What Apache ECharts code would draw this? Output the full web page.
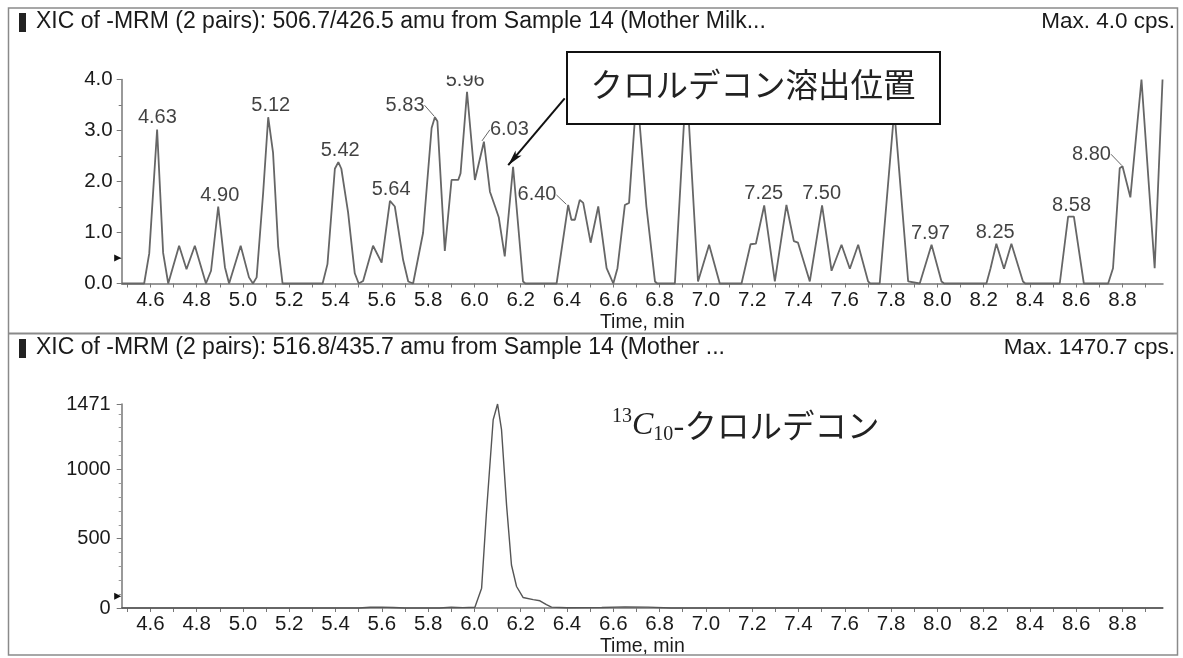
<!DOCTYPE html>
<html>
<head>
<meta charset="utf-8">
<script src="https://cdn.jsdelivr.net/npm/echarts@6/dist/echarts.min.js"></script>
<style>
html,body{margin:0;padding:0;background:#fff;}
#chart{width:1183px;height:658px;}
</style>
</head>
<body>
<div id="chart"></div>
<script>
// ---------- data ----------
const topTimes = [4.476,4.573,4.595,4.629,4.655,4.677,4.724,4.756,4.792,4.840,4.862,4.893,4.922,4.940,4.990,5.026,5.043,5.059,5.087,5.109,5.130,5.152,5.171,5.344,5.365,5.397,5.412,5.425,5.454,5.483,5.500,5.519,5.562,5.599,5.635,5.656,5.692,5.714,5.735,5.778,5.815,5.829,5.840,5.872,5.901,5.930,5.940,5.968,6.002,6.041,6.067,6.090,6.105,6.131,6.167,6.210,6.220,6.355,6.405,6.419,6.434,6.455,6.470,6.502,6.535,6.571,6.600,6.618,6.650,6.668,6.702,6.743,6.780,6.790,6.866,6.916,6.966,7.014,7.060,7.154,7.193,7.216,7.252,7.298,7.348,7.380,7.398,7.449,7.502,7.543,7.586,7.622,7.658,7.701,7.710,7.751,7.814,7.874,7.924,7.975,8.018,8.030,8.212,8.230,8.255,8.288,8.320,8.370,8.380,8.529,8.565,8.590,8.633,8.738,8.759,8.788,8.800,8.834,8.882,8.939,8.973];
const topValues = [0,0,0.59,3.02,0.6,0,0.74,0.28,0.74,0,0.25,1.51,0.32,0,0.74,0.12,0,0.12,1.77,3.26,2.56,0.73,0,0,0.38,2.25,2.38,2.25,1.4,0.2,0,0.05,0.74,0.41,1.62,1.51,0.46,0.04,0,0.99,3.05,3.26,3.18,0.64,2.03,2.03,2.16,3.76,2.03,2.78,1.8,1.5,1.3,0.53,2.29,0.04,0,0,1.54,1.25,1.25,1.64,1.58,0.8,1.51,0.3,0,0.3,1.54,1.58,3.8,1.51,0.04,0,0,4.0,0.04,0.76,0,0,0.77,0.78,1.53,0.04,1.54,0.83,0.8,0.04,1.53,0.25,0.76,0.29,0.76,0.04,0,0,3.4,0.04,0,0.76,0.04,0,0,0.3,0.78,0.29,0.78,0.04,0,0,1.31,1.31,0,0,0.3,2.26,2.3,1.69,4.0,0.3,4.0];

const peakLabels = ['4.63','4.90','5.12','5.42','5.64','5.83','5.96','6.03','6.40','7.25','7.50','7.97','8.25','8.58','8.80'];
const peakTimes  = [4.63,4.90,5.12,5.42,5.64,5.83,5.96,6.03,6.40,7.25,7.50,7.97,8.25,8.58,8.80];
const peakValues = [3.02,1.51,3.26,2.38,1.62,3.26,3.76,2.78,1.54,1.53,1.53,0.76,0.78,1.31,2.3];

const botTimes  = [4.476,5.50,5.55,5.60,5.65,5.70,5.85,5.90,5.95,6.002,6.031,6.052,6.081,6.100,6.117,6.139,6.160,6.182,6.210,6.254,6.283,6.311,6.333,6.400,6.55,6.65,6.75,6.85,8.975];
const botValues = [0,0,5,6,4,0,0,5,3,5,143,690,1357,1470.7,1286,738,310,155,76,60,52,24,6,2,4,8,6,0,0];

const xLabelValues = [4.6,4.8,5.0,5.2,5.4,5.6,5.8,6.0,6.2,6.4,6.6,6.8,7.0,7.2,7.4,7.6,7.8,8.0,8.2,8.4,8.6,8.8];
const xTickValues  = [4.5,4.6,4.7,4.8,4.9,5.0,5.1,5.2,5.3,5.4,5.5,5.6,5.7,5.8,5.9,6.0,6.1,6.2,6.3,6.4,6.5,6.6,6.7,6.8,6.9,7.0,7.1,7.2,7.3,7.4,7.5,7.6,7.7,7.8,7.9,8.0,8.1,8.2,8.3,8.4,8.5,8.6,8.7,8.8,8.9];
const topYLabels = [0,1,2,3,4];
const botYLabels = [0,500,1000,1471];
const botYMinor  = [100,200,300,400,600,700,800,900,1100,1200,1300,1400];

const xMin = 4.476, xMax = 8.975;
const topMax = 4.0, botMax = 1471;
const topMarker = 0.5, botMarker = 84;
const arrowFrom = [6.39, 3.63], arrowTo = [6.146, 2.32];

// label offsets (px) relative to the apex
const labelShift = {
  '5.83':[-30,-12], '6.03':[28,-12], '6.40':[-30,-10], '8.80':[-31,-12]
};

const zip = (a,b) => a.map((v,i)=>[v,b[i]]);
const SANS = '"Liberation Sans", Arial, sans-serif';
const SERIF = '"Liberation Serif", "Times New Roman", serif';
const CJK = '"Noto Sans CJK JP", sans-serif';
const axisColor = '#777';
const textColor = '#1a1a1a';

function xAxisDef(grid){
  return {
    type:'value', gridIndex:grid, min:xMin, max:xMax,
    axisLine:{show:true, onZero:false, lineStyle:{color:axisColor, width:1.5}},
    axisTick:{show:true, customValues:xTickValues, length:4, lineStyle:{color:axisColor}},
    axisLabel:{customValues:xLabelValues, formatter:v=>v.toFixed(1), fontSize:20.5, fontFamily:SANS, color:textColor, margin:6},
    splitLine:{show:false},
    name:'Time, min', nameLocation:'middle', nameGap:29,
    nameTextStyle:{fontSize:19.5, fontFamily:SANS, color:textColor}
  };
}

const chart = echarts.init(document.getElementById('chart'), null, {renderer:'canvas'});
const option = {
  animation:false,
  backgroundColor:'#fff',
  grid:[
    {left:121.7, right:20, top:79.5, bottom:374.5},
    {left:121.7, right:20, top:404, bottom:48}
  ],
  xAxis:[xAxisDef(0), xAxisDef(1)],
  yAxis:[
    {type:'value', gridIndex:0, min:0, max:topMax, interval:1,
     axisLine:{show:true, lineStyle:{color:axisColor, width:1.5}},
     axisTick:{show:true, length:5, lineStyle:{color:axisColor}},
     minorTick:{show:true, splitNumber:2, length:3, lineStyle:{color:axisColor}},
     axisLabel:{formatter:v=>v.toFixed(1), fontSize:20.5, fontFamily:SANS, color:textColor, margin:9},
     splitLine:{show:false}},
    {type:'value', gridIndex:1, min:0, max:botMax,
     axisLine:{show:true, lineStyle:{color:axisColor, width:1.5}},
     axisTick:{show:true, customValues:botYLabels, length:5, lineStyle:{color:axisColor}},
     axisLabel:{customValues:botYLabels, formatter:v=>String(v), fontSize:20, fontFamily:SANS, color:textColor, margin:11},
     splitLine:{show:false}},
    {type:'value', gridIndex:1, min:0, max:botMax, position:'left',
     axisLine:{show:false},
     axisTick:{show:true, customValues:botYMinor, length:3, lineStyle:{color:'#999'}},
     axisLabel:{show:false}, splitLine:{show:false}}
  ],
  series:[
    {type:'line', xAxisIndex:0, yAxisIndex:0, data:zip(topTimes, topValues),
     showSymbol:false, clip:false, lineStyle:{color:'#666', width:1.8}, z:3,
     markLine:{silent:true, symbol:['none','arrow'], symbolSize:[6,16], label:{show:false},
       lineStyle:{color:'#111', width:2, type:'solid'},
       data:[[{coord:arrowFrom},{coord:arrowTo}]]},
     markPoint:{silent:true, symbol:'triangle', symbolSize:[7,7], symbolRotate:-90, symbolOffset:[-4,0],
       itemStyle:{color:'#111'}, label:{show:false}, data:[{coord:[xMin, topMarker]}]}
    },
    {type:'scatter', xAxisIndex:0, yAxisIndex:0, symbolSize:2, itemStyle:{color:'rgba(0,0,0,0)'},
     data:peakLabels.map((n,i)=>({name:n, value:[peakTimes[i], peakValues[i]],
        labelLine:{show: !!labelShift[n]}})),
     label:{show:true, position:'inside', formatter:p=>p.name, fontSize:20, fontFamily:SANS, color:'#111'},
     labelLine:{show:true, lineStyle:{color:'#666', width:1}},
     labelLayout:function(p){
        const n = peakLabels[p.dataIndex];
        const s = labelShift[n] || [0,-11.5];
        return {dx:s[0], dy:s[1]};
     },
     z:4},
    {type:'line', xAxisIndex:1, yAxisIndex:1, data:zip(botTimes, botValues),
     showSymbol:false, clip:false, lineStyle:{color:'#555', width:1.4}, z:3,
     markPoint:{silent:true, symbol:'triangle', symbolSize:[7,7], symbolRotate:-90, symbolOffset:[-4,0],
       itemStyle:{color:'#111'}, label:{show:false}, data:[{coord:[xMin, botMarker]}]}
    }
  ],
  graphic:[
    {type:'rect', z:50, shape:{x:8.5, y:8, width:1169, height:647}, style:{fill:'none', stroke:'#8a8a8a', lineWidth:1.5}},
    {type:'line', z:50, shape:{x1:8.5, y1:333.5, x2:1177.5, y2:333.5}, style:{stroke:'#8a8a8a', lineWidth:2}},
    {type:'rect', z:50, shape:{x:19, y:13, width:7, height:19}, style:{fill:'#222'}},
    {type:'rect', z:50, shape:{x:19, y:339, width:7, height:19}, style:{fill:'#222'}},
    {type:'text', z:50, x:36, y:22, style:{text:'XIC of -MRM (2 pairs): 506.7/426.5 amu from Sample 14 (Mother Milk...', fontSize:23, fontFamily:SANS, fill:textColor, align:'left', verticalAlign:'middle'}},
    {type:'text', z:50, x:1175, y:22, style:{text:'Max. 4.0 cps.', fontSize:22.5, fontFamily:SANS, fill:textColor, align:'right', verticalAlign:'middle'}},
    {type:'text', z:50, x:36, y:348, style:{text:'XIC of -MRM (2 pairs): 516.8/435.7 amu from Sample 14 (Mother ...', fontSize:23, fontFamily:SANS, fill:textColor, align:'left', verticalAlign:'middle'}},
    {type:'text', z:50, x:1175, y:348, style:{text:'Max. 1470.7 cps.', fontSize:22.5, fontFamily:SANS, fill:textColor, align:'right', verticalAlign:'middle'}},
    // clip area above the plot (cuts the top of the "5.96" label as in the original)
    {type:'rect', z:60, shape:{x:440, y:40, width:60, height:35.5}, style:{fill:'#fff'}},
    // annotation box
    {type:'rect', z:100, shape:{x:567, y:52, width:373, height:72}, style:{fill:'#fff', stroke:'#111', lineWidth:2}},
    {type:'text', z:101, x:753, y:85, style:{text:'クロルデコン溶出位置', fontSize:32.5, fontFamily:CJK, fill:'#222', align:'center', verticalAlign:'middle'}},
    // isotope label
    {type:'text', z:101, x:612, y:426, style:{
       text:'{sup|13}{c|C}{sub|10}{k|-クロルデコン}', align:'left', verticalAlign:'middle', fill:'#222',
       rich:{
         sup:{fontSize:20, fontFamily:SERIF, lineHeight:20, verticalAlign:'top', fill:'#222'},
         c:{fontSize:32, fontFamily:SERIF, fontStyle:'italic', lineHeight:38, verticalAlign:'middle', fill:'#222'},
         sub:{fontSize:20, fontFamily:SERIF, lineHeight:20, verticalAlign:'bottom', fill:'#222'},
         k:{fontSize:32.5, fontFamily:CJK, lineHeight:38, verticalAlign:'middle', fill:'#222'}
       }}}
  ]
};
chart.setOption(option);
</script>
</body>
</html>
